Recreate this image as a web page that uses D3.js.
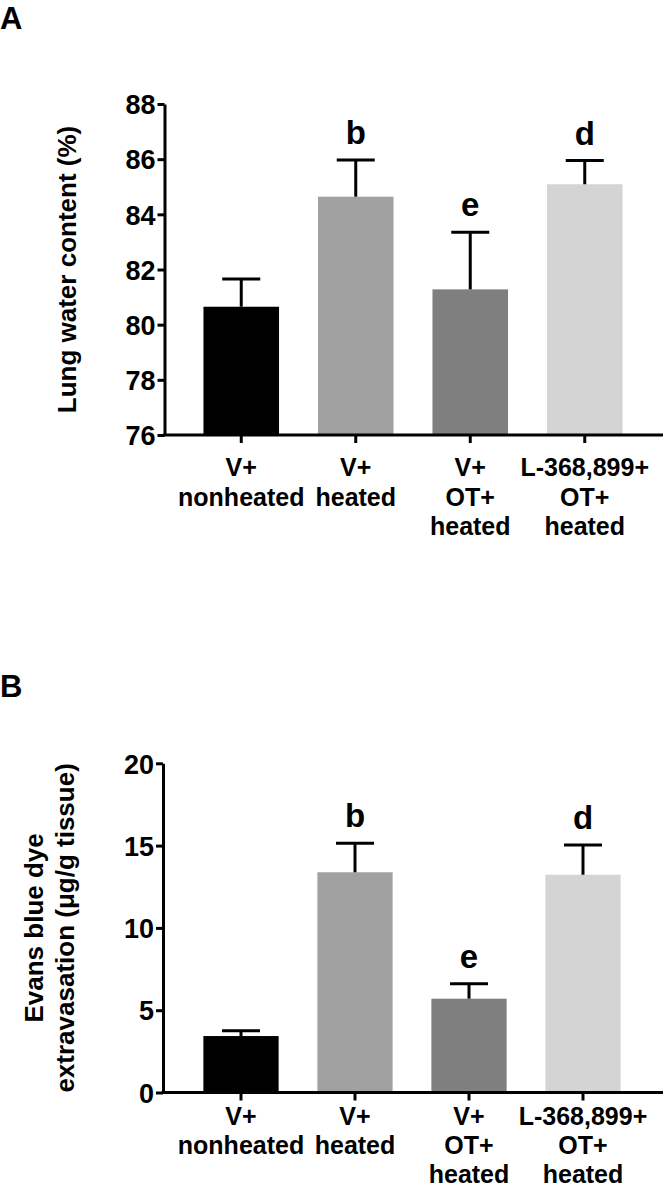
<!DOCTYPE html>
<html>
<head>
<meta charset="utf-8">
<script src="https://cdn.jsdelivr.net/npm/d3@7"></script>
<style>
  html, body { margin: 0; padding: 0; background: #fff; }
  svg text { font-family: "Liberation Sans", Arial, Helvetica, sans-serif; font-weight: bold; fill: #000; }
</style>
</head>
<body>
<svg id="chart" width="664" height="1186"></svg>
<script>
// ---- data ----
const categories = [
  ["V+", "nonheated"],
  ["V+", "heated"],
  ["V+", "OT+", "heated"],
  ["L-368,899+", "OT+", "heated"]
];
const waterMean = [80.65, 84.64, 81.28, 85.09];
const waterSem  = [1.01, 1.33, 2.07, 0.86];
const evansMean = [3.43, 13.38, 5.70, 13.23];
const evansSem  = [0.32, 1.76, 0.91, 1.81];
const sigLetters = ["", "b", "e", "d"];
const waterTicks = [76, 78, 80, 82, 84, 86, 88];
const evansTicks = [0, 5, 10, 15, 20];

const barColors = ["#000000", "#a1a1a1", "#7f7f7f", "#d4d4d4"];

const svg = d3.select("#chart");

function panel(cfg) {
  const g = svg.append("g");
  const idx = categories.map((d, i) => i);
  const x = d3.scaleBand().domain(idx).range(cfg.xRange).paddingInner(0.34).paddingOuter(0.17);
  const y = d3.scaleLinear().domain(cfg.domain).range(cfg.yRange);
  const bw = x.bandwidth();

  // bars
  g.selectAll("rect.bar").data(cfg.mean).join("rect")
    .attr("class", "bar")
    .attr("x", (d, i) => x(i))
    .attr("width", bw)
    .attr("y", d => y(d))
    .attr("height", d => y(cfg.domain[0]) - y(d))
    .attr("fill", (d, i) => barColors[i]);

  // error bars (upper only)
  const capW = 38;
  const eb = g.selectAll("g.err").data(cfg.mean).join("g").attr("class", "err");
  eb.append("line")
    .attr("x1", (d, i) => x(i) + bw / 2).attr("x2", (d, i) => x(i) + bw / 2)
    .attr("y1", d => y(d)).attr("y2", (d, i) => y(d + cfg.sem[i]))
    .attr("stroke", "#000").attr("stroke-width", 3);
  eb.append("line")
    .attr("x1", (d, i) => x(i) + bw / 2 - capW / 2).attr("x2", (d, i) => x(i) + bw / 2 + capW / 2)
    .attr("y1", (d, i) => y(d + cfg.sem[i])).attr("y2", (d, i) => y(d + cfg.sem[i]))
    .attr("stroke", "#000").attr("stroke-width", 3);

  // significance letters
  g.selectAll("text.sig").data(cfg.mean).join("text")
    .attr("class", "sig")
    .attr("x", (d, i) => x(i) + bw / 2)
    .attr("y", (d, i) => y(d + cfg.sem[i]) - 16)
    .attr("text-anchor", "middle")
    .style("font-size", "33px")
    .text((d, i) => sigLetters[i]);

  // y axis
  const ya = g.append("g")
    .attr("transform", `translate(${cfg.axisX},0)`)
    .call(d3.axisLeft(y).tickValues(cfg.ticks).tickSize(7).tickSizeOuter(0).tickPadding(2).tickFormat(d3.format("d")));
  ya.select(".domain").attr("stroke-width", 3).attr("stroke", "#000");
  ya.selectAll(".tick line").attr("stroke-width", 3).attr("stroke", "#000");
  ya.selectAll(".tick text").style("font-size", "27px").attr("dy", "0.36em");

  // x axis
  const y0 = y(cfg.domain[0]);
  const xa = g.append("g")
    .attr("transform", `translate(0,${y0})`)
    .call(d3.axisBottom(x).tickSize(8).tickSizeOuter(0).tickFormat(""));
  xa.select(".domain").attr("d", `M${cfg.axisX - 1.5},0H${cfg.axisRight}`)
    .attr("stroke-width", 3).attr("stroke", "#000");
  xa.selectAll(".tick line").attr("stroke-width", 3).attr("stroke", "#000");

  // x labels
  const xl = g.selectAll("text.xl").data(categories).join("text")
    .attr("class", "xl")
    .attr("text-anchor", "middle")
    .attr("x", (d, i) => x(i) + bw / 2)
    .attr("y", y0 + cfg.labelOffset)
    .style("font-size", "25px");
  xl.selectAll("tspan").data(d => d).join("tspan")
    .attr("x", function () { return d3.select(this.parentNode).attr("x"); })
    .attr("dy", (d, j) => j === 0 ? 0 : cfg.lineGap)
    .text(d => d);

  // y title
  const yc = (cfg.yRange[0] + cfg.yRange[1]) / 2;
  cfg.title.forEach((t, j) => {
    g.append("text")
      .attr("transform", `translate(${cfg.titleX[j]},${yc}) rotate(-90)`)
      .attr("text-anchor", "middle")
      .style("font-size", "26px")
      .text(t);
  });

  // panel letter
  g.append("text").attr("x", 0).attr("y", cfg.panelY)
    .style("font-size", "31px").text(cfg.panel);
}

panel({
  mean: waterMean, sem: waterSem, domain: [76, 88], ticks: waterTicks,
  yRange: [435, 104], xRange: [184, 642], axisX: 164.5, axisRight: 663,
  labelOffset: 41, lineGap: 29.5, title: ["Lung water content (%)"], titleX: [76],
  panel: "A", panelY: 29
});

panel({
  mean: evansMean, sem: evansSem, domain: [0, 20], ticks: evansTicks,
  yRange: [1092.5, 763.3], xRange: [184, 640], axisX: 163, axisRight: 663,
  labelOffset: 32, lineGap: 29, title: ["Evans blue dye", "extravasation (\u03bcg/g tissue)"], titleX: [43, 74],
  panel: "B", panelY: 697
});
</script>
</body>
</html>
